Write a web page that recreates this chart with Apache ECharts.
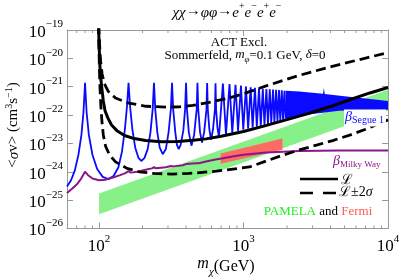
<!DOCTYPE html>
<html><head><meta charset="utf-8">
<script src="https://cdn.jsdelivr.net/npm/echarts/dist/echarts.min.js"></script>
<style>html,body{margin:0;padding:0;background:#fff}#c{width:399px;height:280px}</style>
</head><body><div id="c"></div>
<script>
// ---- data (mass in GeV, log10 of <sigma v> in cm^3/s) ----
const xMinorTicks = [70,80,90,200,300,400,500,600,700,800,900,2000,3000,4000,5000,6000,7000,8000,9000];
const xRange = [60, 10000];
const yRange = [1e-26, 1e-19];

const solidL = [[99.2,-18.8],[100.2,-19.6],[101.5,-20.3],[103,-20.75],[104.5,-21.05],[107,-21.5],[110,-21.85],[115,-22.1],[122,-22.35],[133,-22.55],[150,-22.72],[175,-22.83],[210,-22.9],[270,-22.94],[350,-22.93],[450,-22.89],[550,-22.84],[700,-22.75],[1000,-22.58],[1400,-22.38],[2000,-22.16],[2800,-21.95],[4000,-21.7],[5500,-21.45],[7500,-21.22],[10000,-21.03]];
const upperL = [[99.5,-18.8],[100.8,-19.5],[102.5,-20.1],[105,-20.55],[109,-20.9],[116,-21.17],[130,-21.4],[161,-21.58],[211,-21.69],[290,-21.72],[360,-21.71],[445,-21.66],[580,-21.55],[760,-21.42],[1000,-21.25],[1435,-20.97],[2430,-20.6],[4120,-20.28],[7000,-19.99],[10000,-19.8]];
const lowerL = [[99.0,-18.8],[99.8,-19.6],[100.6,-20.4],[101.6,-21.1],[103,-21.7],[104.6,-22.2],[107,-22.7],[111,-23.1],[118,-23.4],[130,-23.65],[156,-23.88],[190,-24.0],[240,-24.06],[320,-24.08],[420,-24.06],[650,-23.98],[1100,-23.83],[1435,-23.62],[1860,-23.42],[2430,-23.23],[3200,-23.06],[4140,-22.9],[5500,-22.7],[7000,-22.5],[10000,-22.17]];
const milkyWay = [[60,-24.75],[65,-24.6],[70,-24.45],[75,-24.25],[80,-24.0],[84,-24.12],[90,-24.24],[100,-24.3],[110,-24.28],[125,-24.2],[140,-24.12],[152,-24.05],[160,-23.98],[166,-24.03],[185,-24.0],[210,-23.93],[232,-23.88],[240,-23.84],[248,-23.88],[290,-23.84],[315,-23.8],[320,-23.77],[327,-23.81],[380,-23.77],[400,-23.73],[408,-23.76],[470,-23.7],[480,-23.67],[490,-23.7],[560,-23.63],[640,-23.57],[720,-23.52],[837,-23.46],[1000,-23.4],[1435,-23.32],[2430,-23.27],[4600,-23.25],[10000,-23.25]];
const segue = [[60,-24.52],[64,-24.3],[68,-23.95],[72,-23.4],[75.5,-22.7],[78,-21.9],[80,-20.86],[82,-21.9],[85,-22.7],[90,-23.4],[97,-23.9],[106,-24.18],[116,-24.26],[126,-24.15],[136,-23.85],[144,-23.3],[151,-22.5],[156,-21.7],[160,-20.86],[164,-21.7],[170,-22.5],[178,-23.15],[187,-23.5],[196,-23.62],[206,-23.52],[217,-23.2],[227,-22.6],[235,-21.8],[240,-20.86],[245,-21.8],[253,-22.6],[263,-23.15],[276,-23.38],[290,-23.2],[303,-22.6],[314,-21.8],[320,-20.86],[326,-21.8],[337,-22.6],[346,-23.05],[356,-23.2],[367,-23.05],[383,-22.55],[394,-21.8],[400,-20.86],[406,-21.8],[418,-22.6],[436,-23.08],[455,-22.7],[474,-21.8],[480,-20.86],[486,-21.8],[500,-22.6],[516,-22.97],[534,-22.6],[554,-21.8],[560,-20.87],[566,-21.8],[580,-22.5],[596,-22.87],[615,-22.5],[634,-21.8],[640,-20.88],[646,-21.8],[660,-22.45],[676,-22.78],[720,-20.89],[756,-22.69],[800,-20.91],[836,-22.62],[880,-20.93],[916,-22.56],[960,-20.96],[996,-22.52],[1040,-20.99],[1076,-22.48],[1120,-21.02],[1156,-22.45],[1200,-21.04],[1236,-22.41],[1280,-21.06],[1316,-22.38],[1360,-21.07],[1396,-22.35],[1440,-21.08],[1476,-22.32],[1520,-21.09],[1556,-22.28],[1600,-21.1],[1636,-22.25],[1680,-21.11],[1716,-22.22],[1760,-21.12],[1796,-22.19],[1840,-21.13],[1876,-22.16],[1920,-21.14],[1956,-22.13]];
const segueBand = [[1956,-21.145],[2430,-21.17],[3550,-21.25],[3600,-21.05],[3650,-21.26],[5360,-21.35],[7500,-21.43],[10000,-21.5],[10000,-21.81],[7000,-21.82],[4590,-21.85],[3000,-21.96],[2430,-22.02],[1956,-22.13]];
const pamela = [[100,-24.77],[10000,-21.11],[10000,-21.84],[100,-25.5]];
const fermi = [[694,-23.36],[1860,-22.83],[1860,-23.22],[694,-23.72]];
const legendNames = ['\u2112', '\u2112\u00b12\u03c3'];

const toPts = a => a.map(p => [p[0], Math.pow(10, p[1])]);
const serif = "'Liberation Serif','DejaVu Serif',serif";

function polySeries(name, pts, color, z) {
  const P = toPts(pts);
  return {type:'custom', name, z, silent:true, clip:true, xAxisIndex:0, yAxisIndex:0,
    data:[P[0]], encode:{x:0,y:1},
    renderItem:(params, api) => ({type:'polygon', shape:{points:P.map(p => api.coord(p))}, style:{fill:color}})};
}
function lineSeries(name, pts, color, width, dash, z) {
  return {type:'line', name, z, data:toPts(pts), symbol:'none', showSymbol:false, clip:true,
    lineStyle:{color, width, type: dash || 'solid'}, itemStyle:{color}, animation:false, silent:true};
}

const supRich = {
  b:{fontFamily:serif, fontSize:17, color:'#000', lineHeight:22, verticalAlign:'bottom'},
  s:{fontFamily:serif, fontSize:11, color:'#000', lineHeight:11, verticalAlign:'top'}
};
function powLabel(v) {
  const e = Math.round(Math.log10(v));
  if (Math.abs(v / Math.pow(10, e) - 1) > 1e-4) return '';
  return '{b|10}{s|' + (e < 0 ? '\u2212' : '') + Math.abs(e) + '}';
}
const frame = '#999';
function xAx(pos, labels) {
  return {type:'log', logBase:10, min:xRange[0], max:xRange[1], position:pos,
    axisLine:{show:true, onZero:false, lineStyle:{color:frame, width:1}},
    axisTick:{show:true, inside:true, length:6, lineStyle:{color:frame}},
    axisLabel:{show:labels, formatter:powLabel, rich:supRich, margin:5, showMinLabel:true, showMaxLabel:true, hideOverlap:false},
    splitLine:{show:false}, minorTick:{show:false}, minorSplitLine:{show:false}};
}
function yAx(pos, labels) {
  // min pushed a hair below 1e-26 so the 1e-26 tick is an ordinary (labelled) tick
  return {type:'log', logBase:10, min:yRange[0] * 0.998, max:yRange[1], position:pos,
    axisLine:{show:true, onZero:false, lineStyle:{color:frame, width:1}},
    axisTick:{show:true, inside:true, length:6, lineStyle:{color:frame}},
    axisLabel:{show:labels, formatter:powLabel, rich:supRich, margin:4, showMinLabel:true, showMaxLabel:true, hideOverlap:false},
    splitLine:{show:false}, minorTick:{show:false}, minorSplitLine:{show:false}};
}

const chart = echarts.init(document.getElementById('c'), null, {renderer:'canvas'});
chart.setOption({
  animation:false,
  backgroundColor:'#fff',
  grid:{left:67, top:30, width:321, height:198.5, containLabel:false, outerBoundsMode:'none'},
  xAxis:[xAx('bottom', true), xAx('top', false)],
  yAxis:[yAx('left', true), yAx('right', false)],
  series:[
    polySeries('PAMELA', pamela, '#88f088', 1),
    polySeries('Fermi', fermi, '#ff6a62', 2),
    polySeries('SegueBand', segueBand, '#0a0aff', 3),
    lineSeries('Segue', segue, '#0a0aff', 1.8, null, 4),
    lineSeries('MilkyWay', milkyWay, '#8b158b', 2, null, 5),
    lineSeries(legendNames[1], upperL, '#000', 2.8, [10,5], 6),
    lineSeries(legendNames[1], lowerL, '#000', 2.8, [10,5], 6),
    lineSeries(legendNames[0], solidL, '#000', 3, null, 7),
    {type:'custom', name:'minor', z:10, silent:true, xAxisIndex:0, yAxisIndex:0,
      data:xMinorTicks.map(m => [m, yRange[0]]), encode:{x:0,y:1},
      renderItem:(params, api) => {
        const m = api.value(0);
        const b = api.coord([m, yRange[0]]), t = api.coord([m, yRange[1]]);
        return {type:'group', children:[
          {type:'line', shape:{x1:b[0], y1:b[1], x2:b[0], y2:b[1]-3}, style:{stroke:frame, lineWidth:1}},
          {type:'line', shape:{x1:t[0], y1:t[1], x2:t[0], y2:t[1]+3}, style:{stroke:frame, lineWidth:1}}]};
      }}
  ],
  graphic:[
    {type:'text', x:227, y:11, z:100, style:{align:'center', verticalAlign:'middle', fontFamily:serif, fontSize:15, fill:'#000',
      text:'{i|\u03c7\u03c7}\u2192{i|\u03c6\u03c6}\u2192{i|e}{s|+}{i|e}{s|\u2212}{i|e}{s|+}{i|e}{s|\u2212}',
      rich:{i:{fontFamily:serif, fontSize:15, fontStyle:'italic', lineHeight:19, verticalAlign:'bottom'},
            s:{fontFamily:serif, fontSize:10, lineHeight:10, verticalAlign:'top'}}}},
    {type:'text', x:239, y:43, z:100, style:{align:'center', verticalAlign:'middle', fontFamily:serif, fontSize:13, fill:'#000', text:'ACT Excl.'}},
    {type:'text', x:245, y:56, z:100, style:{align:'center', verticalAlign:'middle', fontFamily:serif, fontSize:13, fill:'#000',
      text:'Sommerfeld, {i|m}{u|\u03c6}=0.1 GeV, {i|\u03b4}=0',
      rich:{i:{fontFamily:serif, fontSize:13, fontStyle:'italic', lineHeight:16, verticalAlign:'top'},
            u:{fontFamily:serif, fontSize:9, fontStyle:'italic', lineHeight:16, verticalAlign:'bottom'}}}},
    {type:'text', x:344, y:118, z:100, style:{align:'left', verticalAlign:'middle', fill:'#0a0aff', backgroundColor:'#fff', padding:[1,2,1,1],
      text:'{b|\u03b2}{s|Segue 1}',
      rich:{b:{fontFamily:serif, fontSize:14, fontStyle:'italic', fill:'#0a0aff', lineHeight:15, verticalAlign:'top'},
            s:{fontFamily:serif, fontSize:10, fill:'#0a0aff', lineHeight:15, verticalAlign:'bottom'}}}},
    {type:'text', x:333, y:162, z:100, style:{align:'left', verticalAlign:'middle', fill:'#8b158b',
      text:'{b|\u03b2}{s|Milky Way}',
      rich:{b:{fontFamily:serif, fontSize:14, fontStyle:'italic', fill:'#8b158b', lineHeight:15, verticalAlign:'top'},
            s:{fontFamily:serif, fontSize:9, fill:'#8b158b', lineHeight:15, verticalAlign:'bottom'}}}},
    // legend
    {type:'line', z:100, shape:{x1:300, y1:179, x2:338, y2:179}, style:{stroke:'#000', lineWidth:2.5}},
    {type:'text', x:341, y:180, z:100, style:{align:'left', verticalAlign:'middle', fontFamily:serif, fontSize:14, fill:'#000', text:legendNames[0]}},
    {type:'line', z:100, shape:{x1:300, y1:193, x2:338, y2:193}, style:{stroke:'#000', lineWidth:2.5, lineDash:[13,10]}},
    {type:'text', x:339, y:192, z:100, style:{align:'left', verticalAlign:'middle', fontFamily:serif, fontSize:14, fill:'#000',
      text:'\u2112\u00b12{i|\u03c3}', rich:{i:{fontFamily:serif, fontSize:14, fontStyle:'italic'}}}},
    {type:'text', x:318, y:212, z:100, style:{align:'center', verticalAlign:'middle', fontFamily:serif, fontSize:13,
      text:'{g|PAMELA} and {r|Fermi}', fill:'#000',
      rich:{g:{fontFamily:serif, fontSize:13, fill:'#22ee22'}, r:{fontFamily:serif, fontSize:13, fill:'#ff5a55'}}}},
    {type:'text', x:13, y:125, rotation:Math.PI/2, z:100, style:{align:'center', verticalAlign:'middle', fontFamily:serif, fontSize:15, fill:'#000',
      text:'<{i|\u03c3}v> (cm{s|3}s{s|\u22121})',
      rich:{i:{fontFamily:serif, fontSize:15, fontStyle:'italic', lineHeight:18, verticalAlign:'bottom'},
            s:{fontFamily:serif, fontSize:10, lineHeight:10, verticalAlign:'top'}}}},
    {type:'text', x:226, y:267, z:100, style:{align:'center', verticalAlign:'middle', fontFamily:serif, fontSize:16, fill:'#000',
      text:'{i|m}{u|\u03c7}(GeV)',
      rich:{i:{fontFamily:serif, fontSize:16, fontStyle:'italic', lineHeight:18, verticalAlign:'top'},
            u:{fontFamily:serif, fontSize:11, fontStyle:'italic', lineHeight:22, verticalAlign:'bottom'}}}}
  ]
});
</script></body></html>
